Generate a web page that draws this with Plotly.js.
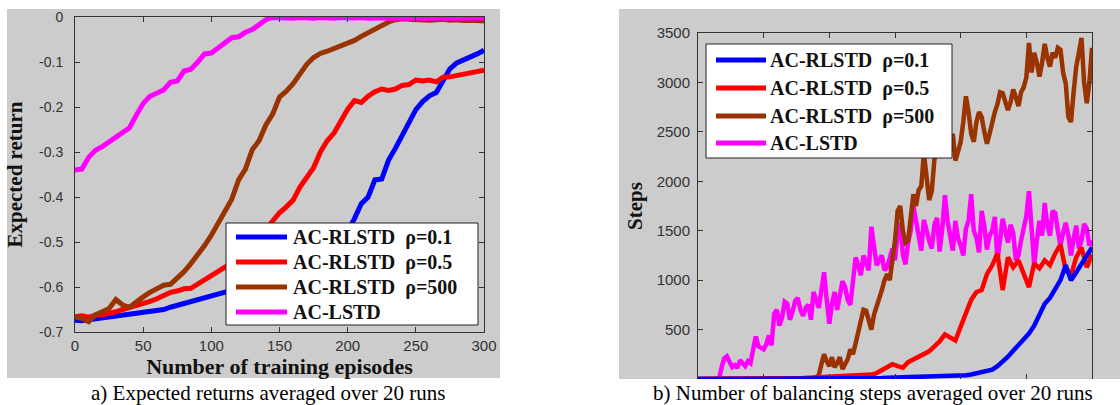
<!DOCTYPE html>
<html><head><meta charset="utf-8">
<script src="https://cdn.plot.ly/plotly-3.0.1.min.js"></script>
<style>html,body{margin:0;padding:0;background:#fff}#chart{width:1120px;height:405px}</style>
</head><body><div id="chart"></div>
<script>
// ---------- panel a: expected return ----------
const episodesA = [0,5,10,15,20,25,30,35,40,45,50,55,60,65,70,75,80,85,90,95,100,105,110,115,120,125,130,135,140,145,150,155,160,165,170,175,180,185,190,195,200,205,210,215,220,225,230,235,240,245,250,255,260,265,270,275,280,285,290,295,300];
const retRho01 = [-0.674,-0.675,-0.673,-0.671,-0.670,-0.668,-0.665,-0.664,-0.661,-0.659,-0.658,-0.656,-0.652,-0.650,-0.645,-0.641,-0.637,-0.632,-0.627,-0.623,-0.620,-0.616,-0.612,-0.608,-0.603,-0.598,-0.594,-0.590,-0.585,-0.580,-0.575,-0.569,-0.563,-0.557,-0.550,-0.543,-0.534,-0.525,-0.512,-0.495,-0.475,-0.448,-0.415,-0.400,-0.362,-0.360,-0.318,-0.292,-0.262,-0.230,-0.206,-0.188,-0.175,-0.168,-0.140,-0.115,-0.102,-0.096,-0.088,-0.082,-0.074];
const retRho05 = [-0.666,-0.664,-0.667,-0.663,-0.662,-0.659,-0.655,-0.650,-0.646,-0.640,-0.637,-0.632,-0.626,-0.620,-0.612,-0.609,-0.604,-0.603,-0.594,-0.583,-0.575,-0.565,-0.556,-0.545,-0.532,-0.520,-0.505,-0.490,-0.472,-0.450,-0.435,-0.422,-0.407,-0.378,-0.355,-0.335,-0.300,-0.275,-0.258,-0.232,-0.205,-0.186,-0.190,-0.176,-0.166,-0.160,-0.163,-0.160,-0.152,-0.150,-0.140,-0.142,-0.140,-0.144,-0.134,-0.133,-0.130,-0.127,-0.124,-0.121,-0.118];
const retRho500 = [-0.666,-0.670,-0.677,-0.662,-0.655,-0.648,-0.628,-0.640,-0.645,-0.632,-0.622,-0.612,-0.603,-0.596,-0.594,-0.580,-0.566,-0.548,-0.530,-0.508,-0.485,-0.458,-0.432,-0.405,-0.362,-0.338,-0.295,-0.275,-0.240,-0.216,-0.178,-0.165,-0.148,-0.125,-0.105,-0.090,-0.081,-0.076,-0.070,-0.064,-0.058,-0.052,-0.043,-0.035,-0.027,-0.018,-0.011,-0.006,-0.004,-0.005,-0.006,-0.005,-0.007,-0.006,-0.005,-0.007,-0.006,-0.008,-0.007,-0.008,-0.009];
const retLSTD = [-0.340,-0.338,-0.312,-0.296,-0.288,-0.278,-0.265,-0.258,-0.246,-0.218,-0.192,-0.176,-0.170,-0.162,-0.145,-0.142,-0.120,-0.116,-0.100,-0.082,-0.080,-0.068,-0.057,-0.046,-0.044,-0.034,-0.028,-0.016,-0.006,-0.001,-0.002,-0.001,-0.003,-0.001,-0.002,-0.003,-0.001,-0.002,-0.003,-0.001,-0.002,-0.002,-0.001,-0.003,-0.002,-0.001,-0.002,-0.003,-0.002,-0.001,-0.002,-0.003,-0.002,-0.001,-0.002,-0.003,-0.002,-0.001,-0.002,-0.002,-0.002];
const ticksAx = [0,50,100,150,200,250,300];
const ticksAy = [0,-0.1,-0.2,-0.3,-0.4,-0.5,-0.6,-0.7];
const tickTextAy = ['0','-0.1','-0.2','-0.3','-0.4','-0.5','-0.6','-0.7'];

// ---------- panel b: balancing steps ----------
const episodesB = [0,4,8,12,16,20,24,28,32,36,40,44,48,52,56,60,64,68,72,76,80,84,88,92,96,100,104,108,112,116,120,124,128,132,136,140,144,148,152,156,160,164,168,172,176,180,184,188,192,196,200,204,208,212,216,220,224,228,232,236,240,244,248,252,256,260,264,268,272,276,280,284,288,292,296,300];
const episodesBfine = [0,2,4,6,8,10,12,14,16,18,20,22,24,26,28,30,32,34,36,38,40,42,44,46,48,50,52,54,56,58,60,62,64,66,68,70,72,74,76,78,80,82,84,86,88,90,92,94,96,98,100,102,104,106,108,110,112,114,116,118,120,122,124,126,128,130,132,134,136,138,140,142,144,146,148,150,152,154,156,158,160,162,164,166,168,170,172,174,176,178,180,182,184,186,188,190,192,194,196,198,200,202,204,206,208,210,212,214,216,218,220,222,224,226,228,230,232,234,236,238,240,242,244,246,248,250,252,254,256,258,260,262,264,266,268,270,272,274,276,278,280,282,284,286,288,290,292,294,296,298,300];
const stepsLSTD = [0,0,0,0,0,0,0,0,0,120,210,230,170,120,140,110,190,150,130,180,160,300,430,330,320,300,350,440,340,660,700,540,620,780,760,600,680,790,820,700,640,720,750,600,880,800,720,900,1080,800,560,760,880,700,830,990,930,800,750,1000,1230,1150,1050,1250,1180,1100,1540,1300,1150,1200,1250,1100,1130,1220,1320,1200,1480,1580,1260,1160,1380,1500,1750,1600,1420,1300,1610,1480,1400,1320,1560,1630,1290,1520,1860,1600,1450,1300,1600,1420,1350,1250,1520,1600,1870,1500,1430,1280,1700,1550,1310,1450,1500,1640,1200,1400,1620,1500,1380,1560,1480,1200,1250,1400,1540,1650,1900,1500,1150,1400,1600,1450,1780,1550,1450,1700,1680,1500,1350,1480,1580,1450,1250,1420,1550,1320,1400,1570,1520,1350,1400];
const stepsRho500 = [0,0,0,0,0,0,0,0,5,5,5,5,5,5,5,5,5,5,5,5,5,5,5,5,5,5,5,5,5,5,5,5,5,5,5,5,5,5,8,8,8,8,8,8,10,20,40,150,250,180,130,220,120,160,220,100,140,200,300,250,360,480,600,700,690,600,500,650,730,800,900,1000,1060,1000,1170,1400,1700,1750,1500,1380,1400,1650,1870,1750,1910,1950,2280,2050,1810,1900,2220,2300,2520,2450,2720,2550,2300,2480,2210,2300,2400,2600,2860,2700,2480,2400,2600,2700,2650,2500,2380,2480,2620,2700,2780,2900,2890,2800,2720,2800,2930,2850,2760,2900,2950,3050,3400,3100,3300,3200,3060,3200,3390,3250,3160,3300,3250,3350,3330,3100,2990,2650,2600,2900,3160,3300,3450,3000,2790,3000,3350];
const stepsRho05 = [0,0,0,0,0,0,0,0,0,0,0,0,0,0,0,0,0,0,0,0,10,12,15,15,18,20,20,25,25,30,30,35,40,45,60,90,130,150,130,115,170,200,220,250,280,330,380,450,420,390,530,680,800,880,900,1060,1150,1270,900,1230,1130,1200,1050,930,1170,1120,1200,1150,1270,1360,1100,1050,1230,1330,1130,1260];
const stepsRho01 = [0,0,0,0,0,0,0,0,0,0,0,0,0,0,0,0,0,0,0,0,0,0,0,0,0,0,0,0,2,3,4,5,6,8,9,10,12,13,14,15,16,18,19,20,21,22,24,25,27,29,32,38,45,55,65,80,95,130,175,225,285,340,390,460,540,650,760,820,900,1000,1150,1000,1080,1160,1260,1330];
const ticksBx = [0,50,100,150,200,250,300];
const ticksBy = [0,500,1000,1500,2000,2500,3000,3500];
const tickTextBy = ['','500','1000','1500','2000','2500','3000','3500'];

const names = ['AC-RLSTD\u00a0\u00a0ρ=0.1','AC-RLSTD\u00a0\u00a0ρ=0.5','AC-RLSTD\u00a0\u00a0ρ=500','AC-LSTD'];
const colors = ['#0000ff','#ff0000','#993300','#ff00ff'];

const W = 1120, H = 405;
const px = v => v / W, py = v => (H - v) / H;
const serif = 'Liberation Serif, Times New Roman, serif';
const sans = 'Liberation Sans, Arial, sans-serif';

const traces = [];
[retRho01, retRho05, retRho500, retLSTD].forEach((ys, i) => {
  traces.push({x: episodesA, y: ys, type: 'scatter', mode: 'lines', name: names[i],
    line: {color: colors[i], width: 5}, xaxis: 'x', yaxis: 'y'});
});
const bSeries = [[episodesBfine, stepsLSTD, 3], [episodesBfine, stepsRho500, 2], [episodesB, stepsRho05, 1], [episodesB, stepsRho01, 0]];
bSeries.forEach(([xs, ys, i]) => {
  traces.push({x: xs, y: ys, type: 'scatter', mode: 'lines', name: names[i],
    line: {color: colors[i], width: 4.5}, xaxis: 'x2', yaxis: 'y2'});
});

const axisBase = {showline: true, linecolor: '#333', linewidth: 1, mirror: 'ticks', ticks: 'inside',
  ticklen: 5, tickcolor: '#333', showgrid: false, zeroline: false};

const shapes = [
  {type: 'rect', xref: 'paper', yref: 'paper', x0: px(7), x1: px(500), y0: py(378), y1: py(9), fillcolor: '#cccccc', line: {width: 0}, layer: 'below'},
  {type: 'rect', xref: 'paper', yref: 'paper', x0: px(619), x1: px(1120), y0: py(379.5), y1: py(9), fillcolor: '#cccccc', line: {width: 0}, layer: 'below'},
  {type: 'rect', xref: 'paper', yref: 'paper', x0: px(619), x1: px(1120), y0: 0, y1: py(379), fillcolor: '#ffffff', line: {width: 0}, layer: 'above'}
];
const annotations = [
  {text: 'a) Expected returns averaged over 20 runs', xref: 'paper', yref: 'paper', x: px(268), y: py(393),
    xanchor: 'center', yanchor: 'middle', showarrow: false, font: {family: serif, size: 21, color: '#000'}},
  {text: 'b) Number of balancing steps averaged over 20 runs', xref: 'paper', yref: 'paper', x: px(873), y: py(393),
    xanchor: 'center', yanchor: 'middle', showarrow: false, font: {family: serif, size: 21, color: '#000'}}
];

// legend boxes (drawn in paper space, above the curves like the reference)
function addLegend(box, lineX0, lineX1, textX, rows) {
  shapes.push({type: 'rect', xref: 'paper', yref: 'paper', x0: px(box[0]), x1: px(box[1]), y0: py(box[3]), y1: py(box[2]),
    fillcolor: '#ffffff', line: {color: '#222', width: 1}, layer: 'above'});
  rows.forEach((ry, i) => {
    shapes.push({type: 'line', xref: 'paper', yref: 'paper', x0: px(lineX0), x1: px(lineX1), y0: py(ry), y1: py(ry),
      line: {color: colors[i], width: 5}, layer: 'above'});
    annotations.push({text: '<b>' + names[i] + '</b>', xref: 'paper', yref: 'paper', x: px(textX), y: py(ry),
      xanchor: 'left', yanchor: 'middle', showarrow: false, font: {family: serif, size: 20, color: '#111'}});
  });
}
addLegend([226, 478, 223, 325], 236, 287, 291, [237, 262, 287, 312]);
addLegend([706, 952, 44, 158], 716, 766, 768, [60, 88, 116, 143]);

const layout = {
  width: W, height: H, margin: {l: 0, r: 0, t: 0, b: 0}, showlegend: false,
  paper_bgcolor: '#ffffff', plot_bgcolor: '#ffffff',
  xaxis: Object.assign({}, axisBase, {domain: [px(75), px(484)], range: [0, 300], tickvals: ticksAx,
    tickfont: {family: sans, size: 15, color: '#333'}, anchor: 'y', ticklabelstandoff: 0,
    title: {text: 'Number of training episodes', font: {family: serif, size: 22, color: '#111', weight: 'bold'}, standoff: 2}}),
  yaxis: Object.assign({}, axisBase, {domain: [py(332), py(17)], range: [-0.7, 0], tickvals: ticksAy, ticktext: tickTextAy,
    tickfont: {family: sans, size: 14, color: '#333'}, anchor: 'x', ticklabelstandoff: 8,
    title: {text: 'Expected return', font: {family: serif, size: 21, color: '#111', weight: 'bold'}, standoff: 10}}),
  xaxis2: Object.assign({}, axisBase, {domain: [px(698), px(1092)], range: [0, 300], tickvals: ticksBx,
    showticklabels: false, anchor: 'y2'}),
  yaxis2: Object.assign({}, axisBase, {domain: [py(379), py(33)], range: [0, 3500], tickvals: ticksBy, ticktext: tickTextBy,
    tickfont: {family: sans, size: 15, color: '#333'}, anchor: 'x2', ticklabelstandoff: 4,
    title: {text: 'Steps', font: {family: serif, size: 21, color: '#111', weight: 'bold'}, standoff: 8}}),
  shapes: shapes,
  annotations: annotations
};

Plotly.newPlot('chart', traces, layout, {displayModeBar: false, staticPlot: true});
</script></body></html>
